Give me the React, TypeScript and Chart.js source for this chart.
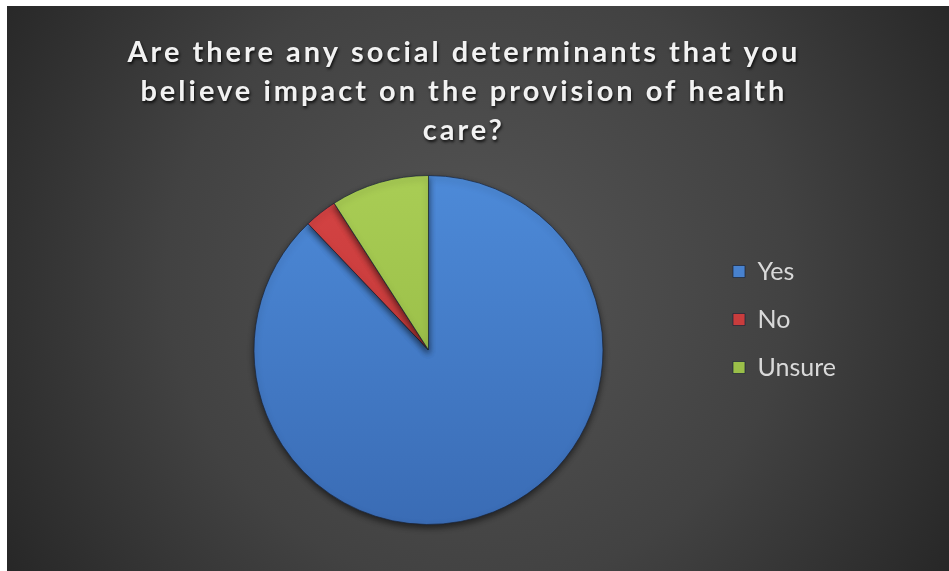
import React, { useEffect, useRef } from "react";
import { Chart, registerables } from "chart.js";

Chart.register(...registerables);

const titleLines = [
  "Are there any social determinants that you",
  "believe impact on the provision of health",
  "care?",
];
const categories = ["Yes", "No", "Unsure"];
const responses = [29, 1, 3];
const colorsTop = ["#4d8ad8", "#d54444", "#a9cd55"];
const colorsBottom = ["#3a6cb5", "#b83232", "#8fb43f"];

const decorPlugin = {
  id: "decor",
  beforeDraw(chart: any) {
    const { ctx, width, height } = chart;
    ctx.save();
    const g = ctx.createRadialGradient(width * 0.5, height * 0.48, 0, width * 0.5, height * 0.48, width * 0.6);
    g.addColorStop(0, "#555555");
    g.addColorStop(0.55, "#424242");
    g.addColorStop(1, "#262626");
    ctx.fillStyle = g;
    ctx.fillRect(0, 0, width, height);
    ctx.restore();

    const tb = chart.titleBlock;
    if (tb && !tb.__patched) {
      const orig = tb.draw.bind(tb);
      tb.draw = (...args: any[]) => {
        const c = chart.ctx;
        const dx = chart.width * 0.485 - (tb.left + tb.right) / 2;
        c.save();
        c.translate(dx, 0);
        (c as any).letterSpacing = "3px";
        c.shadowColor = "rgba(0,0,0,0.8)";
        c.shadowBlur = 3;
        c.shadowOffsetX = 1;
        c.shadowOffsetY = 2;
        orig(...args);
        c.restore();
      };
      tb.__patched = true;
    }
  },
  beforeDatasetsDraw(chart: any) {
    const c = chart.ctx;
    c.save();
    c.shadowColor = "rgba(0,0,0,0.55)";
    c.shadowBlur = 6;
    c.shadowOffsetY = 3;
  },
  afterDatasetsDraw(chart: any) {
    chart.ctx.restore();
  },
};

export default function App() {
  const ref = useRef<HTMLCanvasElement | null>(null);
  useEffect(() => {
    document.body.style.margin = "6px 0 0 7px";
    document.body.style.overflow = "hidden";
    const canvas = ref.current!;
    const chart = new Chart(canvas, {
      type: "pie",
      data: {
        labels: categories,
        datasets: [
          {
            data: responses,
            backgroundColor: (c: any) => {
              const area = c.chart.chartArea;
              const i = c.dataIndex ?? 0;
              if (!area) return colorsTop[i];
              const g = c.chart.ctx.createLinearGradient(0, area.top, 0, area.bottom);
              g.addColorStop(0, colorsTop[i]);
              g.addColorStop(1, colorsBottom[i]);
              return g;
            },
            borderColor: "rgba(25,35,55,0.7)",
            borderWidth: 1,
          },
        ],
      },
      plugins: [decorPlugin],
      options: {
        animation: false,
        responsive: false,
        devicePixelRatio: 1,
        layout: { padding: { left: 140, right: 103, top: 0, bottom: 46 } },
        plugins: {
          title: {
            display: true,
            text: titleLines,
            color: "#f2f2f2",
            font: { family: "Lato", size: 29, weight: "bold", lineHeight: 1.345 },
            padding: { top: 27, bottom: 25 },
          },
          legend: {
            display: true,
            position: "right",
            align: "start",
            fullSize: false,
            title: { display: true, text: " ", font: { size: 10, lineHeight: 1 }, padding: { top: 26, bottom: 25 } },
            labels: {
              color: "#d9d9d9",
              font: { family: "Lato", size: 25 },
              boxWidth: 12,
              boxHeight: 12,
              padding: 23,
            },
          },
          tooltip: { enabled: false },
        },
      },
    });
    return () => chart.destroy();
  }, []);
  return <canvas ref={ref} width={942} height={565} style={{ display: "block", width: 942, height: 565 }} />;
}
